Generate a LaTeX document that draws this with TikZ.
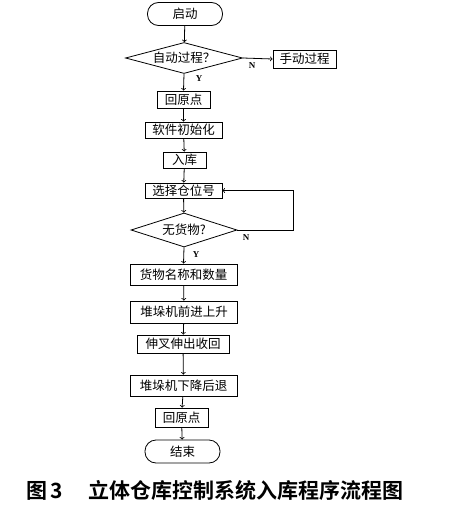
\documentclass[tikz,border=0pt]{standalone}
\usepackage{fontspec}
\setmainfont{Noto Sans CJK SC}
\newfontfamily\capfont{Noto Sans CJK SC Bold}
\newfontfamily\tagfont{Liberation Serif}
\usetikzlibrary{shapes,arrows}

\begin{document}
\begin{tikzpicture}[x=1pt,y=-1pt]
		\tikzstyle {box} = [draw, line width=0.8pt, inner sep=0pt, font=\fontsize{12.5}{12.5}\selectfont]
		\tikzstyle {terminal} = [box, rounded corners=11pt]
		\tikzstyle {decision} = [box, diamond, aspect=3.5]
		\tikzstyle {flow} = [->, line width=0.8pt]
		\tikzstyle {tag} = [font=\tagfont\fontsize{9}{9}\bfseries\selectfont, inner sep=0pt]

		\useasboundingbox (0,0) rectangle (462,511);

		\node[terminal, minimum width=75, minimum height=23] (start) at (185,14) {启动};
		\node[decision, minimum width=117, minimum height=31] (auto) at (184,58) {自动过程？};
		\node[box, minimum width=63, minimum height=18] (manual) at (304.5,59) {手动过程};
		\node[box, minimum width=53, minimum height=17] (home) at (183.5,99.5) {回原点};
		\node[box, minimum width=77, minimum height=16] (init) at (183.5,130) {软件初始化};
		\node[box, minimum width=43, minimum height=16] (store) at (184.5,160) {入库};
		\node[box, minimum width=77, minimum height=15] (select) at (183.5,190.5) {选择仓位号};
		\node[decision, minimum width=106, minimum height=34] (empty) at (184,230) {无货物?};
		\node[box, minimum width=107, minimum height=21] (goods) at (183.5,274.5) {货物名称和数量};
		\node[box, minimum width=107, minimum height=22] (forward) at (184,312) {堆垛机前进上升};
		\node[box, minimum width=92, minimum height=18] (fork) at (183,344) {伸叉伸出收回};
		\node[box, minimum width=107, minimum height=21] (down) at (183.5,385.5) {堆垛机下降后退};
		\node[box, minimum width=53, minimum height=19] (home2) at (181.5,417.5) {回原点};
		\node[terminal, minimum width=75, minimum height=23] (stop) at (182.5,451.5) {结束};

		\draw[flow] (start) -- (auto);
		\draw[flow] (auto.east) -- (manual.west);
		\draw[flow] (auto.south) -- (home.north);
		\draw[flow] (home) -- (init);
		\draw[flow] (init) -- (store);
		\draw[flow] (store) -- (select);
		\draw[flow] (select) -- (empty);
		\draw[flow] (empty.east) -- ++(56,0) |- (select.east);
		\draw[flow] (empty.south) -- (goods.north);
		\draw[flow] (goods) -- (forward);
		\draw[flow] (forward) -- (fork);
		\draw[flow] (fork) -- (down);
		\draw[flow] (down) -- (home2);
		\draw[flow] (home2) -- (stop);

		\node[tag] (n1) at (252,66) {N};
		\node[tag] (y1) at (199,79) {Y};
		\node[tag] (n2) at (246,238) {N};
		\node[tag] (y2) at (196,255) {Y};

		\node[font=\capfont\fontsize{21}{21}\selectfont, anchor=west, inner sep=0pt] (caption) at (26,490) {图\,3\hspace{1.2em}立体仓库控制系统入库程序流程图};
\end{tikzpicture}
\end{document}
